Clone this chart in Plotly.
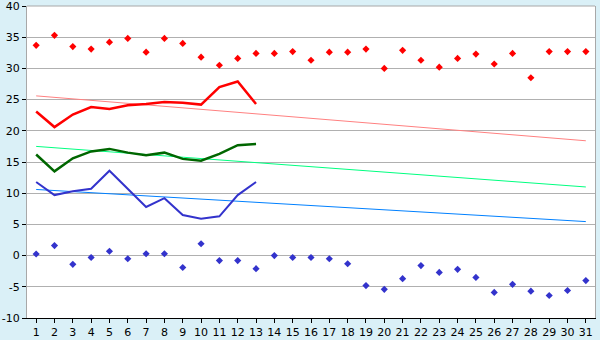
import plotly.graph_objects as go

days = list(range(1, 32))
max_pts = [33.7, 35.3, 33.5, 33.1, 34.2, 34.8, 32.6, 34.8, 34.0, 31.8,
           30.5, 31.6, 32.4, 32.4, 32.7, 31.3, 32.6, 32.6, 33.1, 30.0,
           32.9, 31.3, 30.2, 31.6, 32.3, 30.7, 32.4, 28.5, 32.7, 32.7, 32.7]
min_pts = [0.25, 1.6, -1.4, -0.3, 0.7, -0.5, 0.3, 0.3, -1.9, 1.9,
           -0.8, -0.8, -2.1, 0.0, -0.3, -0.3, -0.5, -1.3, -4.8, -5.4,
           -3.7, -1.6, -2.7, -2.2, -3.5, -5.9, -4.6, -5.7, -6.4, -5.6, -4.0]
line_days = list(range(1, 14))
max_line = [23.1, 20.6, 22.6, 23.8, 23.5, 24.1, 24.3, 24.6, 24.5, 24.2, 27.0, 27.9, 24.3]
mean_line = [16.2, 13.5, 15.6, 16.7, 17.1, 16.5, 16.1, 16.5, 15.5, 15.2, 16.3, 17.7, 17.9]
min_line = [11.8, 9.7, 10.3, 10.7, 13.6, 10.7, 7.8, 9.2, 6.5, 5.9, 6.3, 9.7, 11.8]
trend_days = [1, 31]
trend_max = [25.6, 18.4]
trend_mean = [17.5, 11.0]
trend_min = [10.6, 5.45]
y_tick_vals = [-10, -5, 0, 5, 10, 15, 20, 25, 30, 35, 40]
y_tick_text = ["-10", "-5", "0", "5", "10", "15", "20", "25", "30", "35", "40"]

fig = go.Figure()
fig.add_trace(go.Scatter(x=trend_days, y=trend_max, mode="lines",
                         line=dict(color="#ff8080", width=1)))
fig.add_trace(go.Scatter(x=trend_days, y=trend_mean, mode="lines",
                         line=dict(color="#00ff80", width=1)))
fig.add_trace(go.Scatter(x=trend_days, y=trend_min, mode="lines",
                         line=dict(color="#0080ff", width=1)))
fig.add_trace(go.Scatter(x=line_days, y=max_line, mode="lines",
                         line=dict(color="#ff0000", width=2.5)))
fig.add_trace(go.Scatter(x=line_days, y=mean_line, mode="lines",
                         line=dict(color="#006600", width=2.5)))
fig.add_trace(go.Scatter(x=line_days, y=min_line, mode="lines",
                         line=dict(color="#3333cc", width=2)))
fig.add_trace(go.Scatter(x=days, y=max_pts, mode="markers",
                         marker=dict(symbol="diamond", size=5.5, color="#ff0000")))
fig.add_trace(go.Scatter(x=days, y=min_pts, mode="markers",
                         marker=dict(symbol="diamond", size=5.5, color="#3333cc")))

fig.add_shape(type="line", xref="paper", yref="paper", x0=0, x1=1, y0=1, y1=1,
              line=dict(color="#a8a8a8", width=1))

fig.update_layout(
    width=600, height=340,
    margin=dict(l=27, r=5, t=6, b=22),
    paper_bgcolor="#daf0f7",
    plot_bgcolor="#ffffff",
    showlegend=False,
    font=dict(family="DejaVu Sans", size=12, color="#000000"),
)
fig.update_xaxes(range=[0.5, 31.5], tickmode="array", tickvals=days,
                 showgrid=False, zeroline=False, showline=True,
                 linecolor="#000000", linewidth=1, ticks="outside",
                 ticklen=4, tickcolor="#000000", tickfont=dict(size=11),
                 ticklabeloverflow="allow", automargin=False)
fig.update_yaxes(range=[-10, 40], tickmode="array", tickvals=y_tick_vals,
                 ticktext=y_tick_text,
                 showgrid=True, gridcolor="#b0b0b0", gridwidth=1,
                 zeroline=False, showline=True, mirror=True,
                 linecolor="#a8a8a8", linewidth=1, ticks="outside",
                 ticklen=4, tickcolor="#000000", tickfont=dict(size=11),
                 ticklabeloverflow="allow", automargin=False)
fig.write_html("out.html")
